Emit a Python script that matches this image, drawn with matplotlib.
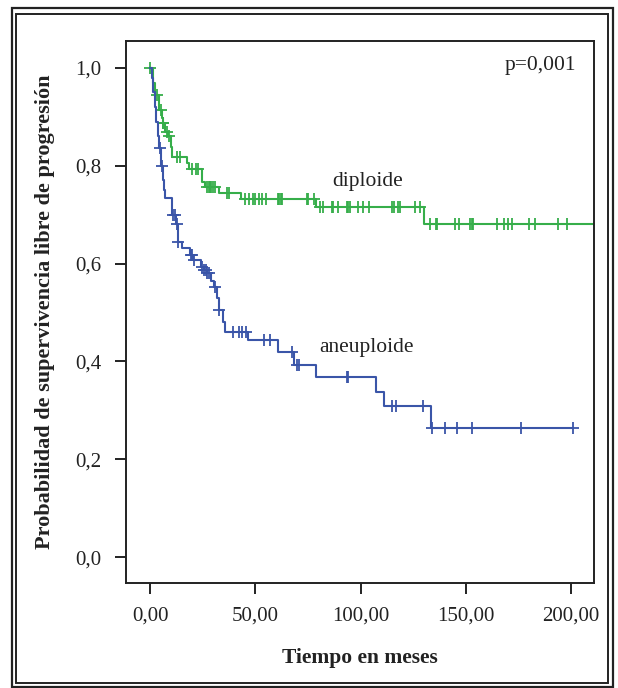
import numpy as np
import matplotlib.pyplot as plt
from matplotlib.patches import Rectangle

# step functions (time, survival after the drop)
dip_t = [0, 1.5, 2.5, 4.5, 5.5, 6, 7, 8.5, 10, 10.5, 17.5, 18.5, 24.5, 26, 33, 43, 79, 130]
dip_s = [1.0, 0.97, 0.945, 0.914, 0.898, 0.887, 0.869, 0.861, 0.838, 0.818, 0.805, 0.793,
         0.767, 0.757, 0.744, 0.732, 0.716, 0.681]
dip_cens = [0, 3.5, 5, 6, 6.2, 8, 9, 12.8, 14.3, 20, 22, 23, 27, 28, 28.5, 29, 30, 31,
            36.5, 37.5, 45, 47, 49, 50, 52, 53, 55, 61, 61.5, 62, 62.5, 74.5, 75, 78,
            80.8, 82.3, 86.5, 87, 89.3, 93.6, 94, 95, 98.8, 101.2, 104, 115, 116, 117.8,
            118.8, 125.9, 128.3, 133, 136, 136.5, 145, 147, 152, 153, 153.5, 165, 168,
            170, 172, 180, 183, 194, 198]
dip_end = 212

aneu_t = [0, 0.8, 1.5, 2.2, 3, 3.8, 4.5, 5.2, 6, 6.6, 7.1, 10.5, 12.5, 13.2, 15, 19,
          20.5, 24, 25.5, 27, 29, 30.5, 32, 33, 34.5, 35.5, 46.5, 61, 68.5, 79,
          107.4, 111, 133.5]
aneu_s = [1.0, 0.98, 0.95, 0.92, 0.89, 0.86, 0.836, 0.80, 0.77, 0.75, 0.734, 0.70,
          0.68, 0.644, 0.632, 0.618, 0.607, 0.593, 0.587, 0.58, 0.565, 0.552, 0.53,
          0.505, 0.48, 0.46, 0.444, 0.419, 0.393, 0.368, 0.337, 0.309, 0.264]
aneu_cens = [4.8, 5.7, 11, 12, 13, 13.5, 19.5, 20, 21, 24.5, 25.5, 26.5, 27, 28, 31,
             33, 39.5, 42.5, 43.7, 45.6, 54, 57, 67.5, 70, 71, 93.6, 94, 115, 117,
             129.7, 134, 140, 146, 153, 176, 201]
aneu_end = 201

x_ticks = [0, 50, 100, 150, 200]
x_labels = ['0,00', '50,00', '100,00', '150,00', '200,00']
y_ticks = [0.0, 0.2, 0.4, 0.6, 0.8, 1.0]
y_labels = ['0,0', '0,2', '0,4', '0,6', '0,8', '1,0']

GREEN = '#36ae4a'
BLUE = '#3a55a8'
INK = '#222222'

plt.rcParams['font.family'] = ['Liberation Serif', 'DejaVu Serif']

fig = plt.figure(figsize=(6.18, 6.88), dpi=100)
ax = fig.add_axes([0.2039, 0.1526, 0.7573, 0.7878])


def draw_curve(times, surv, cens, t_end, color):
    t = np.array(times + [t_end])
    s = np.array(surv + [surv[-1]])
    ax.step(t, s, where='post', color=color, lw=1.5)
    idx = np.searchsorted(times, cens, side='right') - 1
    ax.plot(cens, np.array(surv)[idx], ls='none', marker='+', ms=8, mew=1.3, color=color)


draw_curve(dip_t, dip_s, dip_cens, dip_end, GREEN)
draw_curve(aneu_t, aneu_s, aneu_cens, aneu_end, BLUE)

ax.set_xlim(-11.4, 210.9)
ax.set_ylim(-0.053, 1.055)
ax.set_xticks(x_ticks)
ax.set_xticklabels(x_labels)
ax.set_yticks(y_ticks)
ax.set_yticklabels(y_labels)
ax.tick_params(direction='out', length=8, width=1.4, labelsize=15, color=INK,
               labelcolor=INK)
ax.tick_params(axis='y', pad=10)
ax.tick_params(axis='x', pad=9)
for sp in ax.spines.values():
    sp.set_linewidth(1.4)
    sp.set_color(INK)

ax.set_xlabel('Tiempo en meses', fontsize=15.5, fontweight='bold', labelpad=16, color=INK)
ax.set_ylabel('Probabilidad de supervivencia libre de progresión', fontsize=16,
              fontweight='bold', labelpad=14, color=INK)

ax.text(0.962, 0.955, 'p=0,001', transform=ax.transAxes, ha='right', va='center',
        fontsize=15.5, color=INK)
ax.text(0.517, 0.74, 'diploide', transform=ax.transAxes, ha='center', va='center',
        fontsize=15.5, color=INK)
ax.text(0.513, 0.435, 'aneuploide', transform=ax.transAxes, ha='center', va='center',
        fontsize=15.5, color=INK)

# double frame around the whole figure
fig.patches.append(Rectangle((0.0194, 0.0015), 0.9725, 0.9869, transform=fig.transFigure,
                             fill=False, lw=1.6, ec=INK))
fig.patches.append(Rectangle((0.0259, 0.0073), 0.9579, 0.9724, transform=fig.transFigure,
                             fill=False, lw=1.4, ec=INK))

fig.savefig('out.png', dpi=100)
